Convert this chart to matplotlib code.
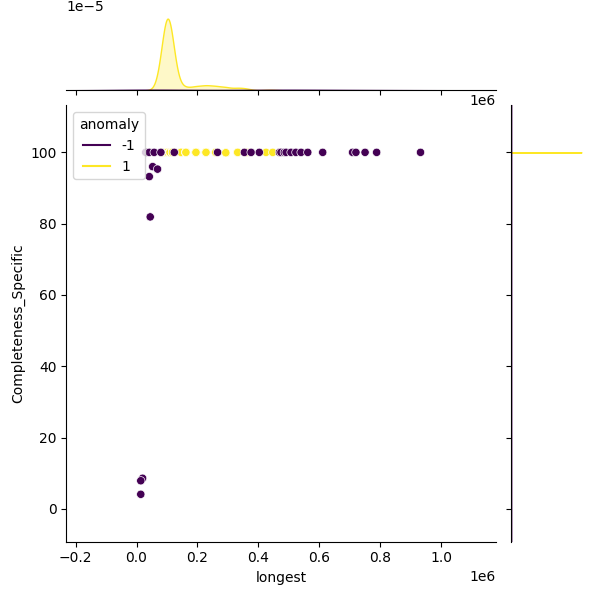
import numpy as np
import pandas as pd
import matplotlib
matplotlib.use("Agg")
import matplotlib.pyplot as plt
from matplotlib.lines import Line2D
import seaborn as sns

# anomaly = -1 (terbaca langsung dari scatter)
anom_x = [0.014, 0.020, 0.014, 0.045, 0.042, 0.053, 0.069,
          0.030, 0.042, 0.058, 0.080, 0.124, 0.266, 0.354, 0.376, 0.403,
          0.469, 0.474, 0.485, 0.491, 0.507, 0.523, 0.540, 0.562, 0.611,
          0.709, 0.720, 0.750, 0.788, 0.932]
anom_y = [4.1, 8.6, 7.9, 81.9, 93.2, 96.0, 95.3,
          100, 100, 100, 100, 100, 100, 100, 100, 100,
          100, 100, 100, 100, 100, 100, 100, 100, 100,
          100, 100, 100, 100, 100]

# anomaly = 1 (banyak titik bertumpuk -> nilai + jumlah)
norm_x = [0.085, 0.095, 0.102, 0.110, 0.118, 0.146, 0.162, 0.195,
          0.228, 0.260, 0.293, 0.332, 0.360, 0.425, 0.447]
norm_y = [100, 100, 100, 100, 100, 100, 100, 100,
          100, 100, 99.9, 100, 100, 100, 100]
norm_n = [20, 60, 90, 60, 20, 5, 5, 10, 12, 10, 8, 6, 4, 1, 1]

# normal dulu, anomali digambar di atasnya
x = np.concatenate([np.repeat(norm_x, norm_n), np.array(anom_x)]) * 1e6
y = np.concatenate([np.repeat(norm_y, norm_n), np.array(anom_y)])
lab = np.concatenate([np.full(sum(norm_n), 1), np.full(len(anom_x), -1)])
df = pd.DataFrame({"longest": x, "Completeness_Specific": y, "anomaly": lab})

g = sns.jointplot(data=df, x="longest", y="Completeness_Specific",
                  hue="anomaly", palette="viridis", legend=False,
                  marginal_kws=dict(bw_adjust=0.85))

ax = g.ax_joint
ax.set_xlim(-0.23e6, 1.18e6)
ax.set_ylim(-9.2, 113.2)

cmap = plt.get_cmap("viridis")
handles = [Line2D([], [], color=cmap(0.0)), Line2D([], [], color=cmap(1.0))]
ax.legend(handles, ["-1", "1"], title="anomaly", loc="upper left")

plt.savefig("out.png", dpi=100)
